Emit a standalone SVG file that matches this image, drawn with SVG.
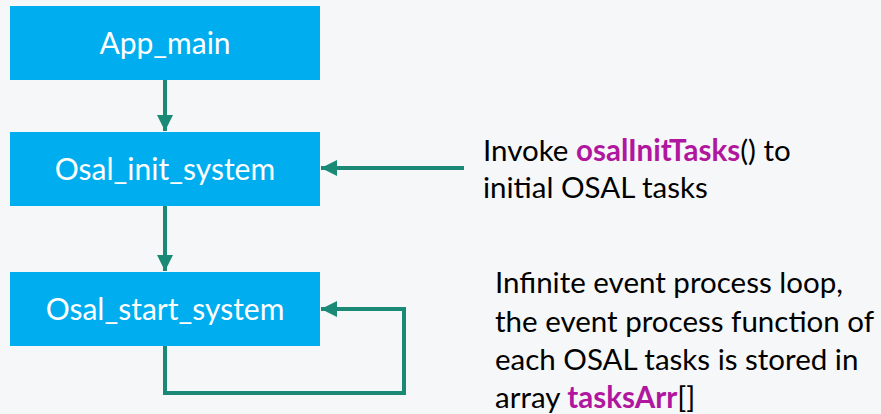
<svg xmlns="http://www.w3.org/2000/svg" width="881" height="414" viewBox="0 0 881 414">
<style>
.box{fill:#00AEEF}
.bt{fill:#FFFFFF;font-family:Lato,"Open Sans",sans-serif;font-size:30px;text-anchor:middle}
.nt{fill:#000000;font-family:Lato,"Open Sans",sans-serif;font-size:29.5px}
.hl{fill:#B0169E;font-weight:bold}
.cn{fill:none;stroke:#1A8A76;stroke-width:4}
</style>
<defs>
<marker id="ah" viewBox="0 0 10 10" refX="10" refY="5" markerWidth="4" markerHeight="4" orient="auto" markerUnits="strokeWidth">
<path d="M0,0 L10,5 L0,10 z" fill="#1A8A76"/>
</marker>
</defs>
<rect width="881" height="414" fill="#F6F7F9"/>
<g id="app_main"><rect class="box" x="10" y="6" width="310" height="74"/><text class="bt" x="165" y="54">App_main</text></g>
<g id="osal_init_system"><rect class="box" x="10" y="132" width="310" height="74"/><text class="bt" x="165" y="180">Osal_init_system</text></g>
<g id="osal_start_system"><rect class="box" x="10" y="272" width="310" height="74"/><text class="bt" x="165" y="320">Osal_start_system</text></g>
<g id="connectors">
<path class="cn" d="M165,80 V131" marker-end="url(#ah)"/>
<path class="cn" d="M165,206 V271" marker-end="url(#ah)"/>
<path class="cn" d="M464,168 H321" marker-end="url(#ah)"/>
<path class="cn" d="M165,346 V393 H404 V309 H321" marker-end="url(#ah)"/>
</g>
<g id="note_init">
<text class="nt" x="483" y="161">Invoke <tspan class="hl">osalInitTasks</tspan>() to</text>
<text class="nt" x="483" y="198">initial OSAL tasks</text>
</g>
<g id="note_start">
<text class="nt" x="495" y="293">Infinite event process loop,</text>
<text class="nt" x="495" y="332">the event process function of</text>
<text class="nt" x="495" y="370">each OSAL tasks is stored in</text>
<text class="nt" x="495" y="408">array <tspan class="hl">tasksArr</tspan>[]</text>
</g>
</svg>
